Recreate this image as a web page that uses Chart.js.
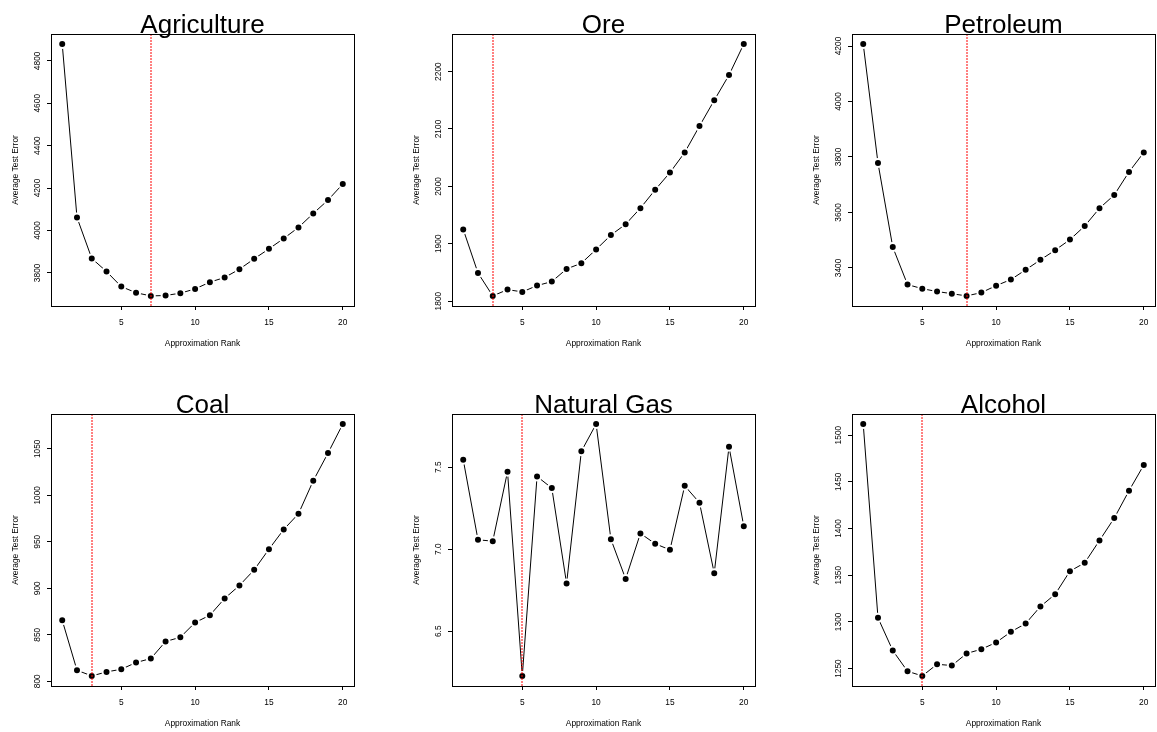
<!DOCTYPE html>
<html>
<head>
<meta charset="utf-8">
<script src="https://cdn.jsdelivr.net/npm/chart.js@4/dist/chart.umd.min.js"></script>
<style>
  body { margin: 0; background: #fff; width: 1157px; height: 732px; position: relative; overflow: hidden; }
  .panel { position: absolute; width: 360px; height: 380px; }
</style>
</head>
<body>
<div class="panel" style="left:0;top:0"><canvas id="c0" width="360" height="380"></canvas></div>
<div class="panel" style="left:401px;top:0"><canvas id="c1" width="360" height="380"></canvas></div>
<div class="panel" style="left:801px;top:0"><canvas id="c2" width="360" height="380"></canvas></div>
<div class="panel" style="left:0;top:380px"><canvas id="c3" width="360" height="380"></canvas></div>
<div class="panel" style="left:401px;top:380px"><canvas id="c4" width="360" height="380"></canvas></div>
<div class="panel" style="left:801px;top:380px"><canvas id="c5" width="360" height="380"></canvas></div>
<script>
const ranks = [1, 2, 3, 4, 5, 6, 7, 8, 9, 10, 11, 12, 13, 14, 15, 16, 17, 18, 19, 20]

const agriculture = [4879, 4061, 3868, 3806, 3735, 3706, 3691, 3693, 3704, 3724, 3756, 3778, 3817, 3866, 3913, 3962, 4014, 4080, 4143, 4219]
const ore = [1925, 1849, 1809, 1820, 1816, 1827, 1834, 1856, 1866, 1890, 1915, 1934, 1962, 1994, 2024, 2059, 2105, 2150, 2194, 2248]
const petroleum = [4207, 3778, 3475, 3340, 3325, 3315, 3307, 3299, 3311, 3336, 3358, 3393, 3429, 3464, 3502, 3551, 3615, 3663, 3746, 3816]
const coal = [865.6, 811.8, 805.7, 810, 812.9, 820.1, 824.4, 842.7, 847.3, 863.1, 871, 889, 903, 919.8, 942, 963.2, 980.1, 1015.6, 1045.4, 1076.6]
const naturalGas = [7.545, 7.057, 7.049, 7.472, 6.228, 7.443, 7.372, 6.791, 7.596, 7.762, 7.061, 6.819, 7.096, 7.033, 6.996, 7.386, 7.283, 6.854, 7.624, 7.140]
const alcohol = [1511.8, 1304.3, 1269.3, 1247.1, 1242.1, 1254.6, 1253.2, 1266.1, 1270.7, 1277.9, 1289.3, 1298.2, 1316.4, 1329.6, 1354.3, 1363.2, 1387.1, 1411.1, 1440.4, 1467.9]

const titles = ['Agriculture', 'Ore', 'Petroleum', 'Coal', 'Natural Gas', 'Alcohol']
const series = [agriculture, ore, petroleum, coal, naturalGas, alcohol]
const bestRanks = [7, 3, 8, 3, 5, 5]
const yStepSizes = [200, 100, 200, 50, 0.5, 50]
const yDecimals = [0, 0, 0, 0, 1, 0]
const xTicks = [5, 10, 15, 20]

const FAMILY = '"Liberation Sans", Arial, Helvetica, sans-serif'
const SMALL = 8.4

// R-style extended range: data range padded by 4% each side
function rRange(vals) {
  const lo = Math.min(...vals)
  const hi = Math.max(...vals)
  const pad = (hi - lo) * 0.04
  return [lo - pad, hi + pad]
}

function tickList(lo, hi, step) {
  const out = []
  for (let k = Math.ceil(lo / step); k * step <= hi; k++) out.push(+(k * step).toFixed(6))
  return out
}

const measureCtx = document.createElement('canvas').getContext('2d')
measureCtx.font = SMALL + 'px ' + FAMILY

const framePlugin = {
  id: 'frame',
  afterDatasetsDraw(chart, args, opts) {
    const { ctx, chartArea: a, scales: { x } } = chart
    const px = Math.round(x.getPixelForValue(opts.best))
    ctx.save()
    ctx.strokeStyle = '#ff0000'
    ctx.lineWidth = 1
    ctx.setLineDash([2, 1])
    ctx.beginPath()
    ctx.moveTo(px, a.top)
    ctx.lineTo(px, a.bottom)
    ctx.stroke()
    ctx.restore()
  },
  afterDraw(chart, args, opts) {
    const { ctx, chartArea: a } = chart
    ctx.save()
    ctx.strokeStyle = '#000'
    ctx.lineWidth = 1
    ctx.strokeRect(Math.round(a.left) + 0.5, Math.round(a.top) + 0.5,
      Math.round(a.right - a.left), Math.round(a.bottom - a.top))
    ctx.fillStyle = '#000'
    ctx.font = '26px ' + FAMILY
    ctx.textAlign = 'center'
    ctx.textBaseline = 'alphabetic'
    ctx.fillText(opts.title, (a.left + a.right) / 2, a.top - 1)
    ctx.restore()
  },
}

series.forEach((vals, i) => {
  const [xLo, xHi] = rRange(ranks)
  const [yLo, yHi] = rRange(vals)
  const dec = yDecimals[i]
  const yTicks = tickList(yLo, yHi, yStepSizes[i])

  // measure widest y label so rotated labels sit a fixed distance from the axis
  let widest = 0
  yTicks.forEach(v => {
    widest = Math.max(widest, measureCtx.measureText(v.toFixed(dec)).width)
  })
  const yPad = 9 - widest / 2

  const ctx = document.getElementById('c' + i).getContext('2d')
  new Chart(ctx, {
    type: 'line',
    data: {
      datasets: [
        {
          data: ranks.map((r, k) => ({ x: r, y: vals[k] })),
          borderColor: '#000',
          borderWidth: 1,
          tension: 0,
          pointRadius: 4,
          pointBorderWidth: 2,
          pointBackgroundColor: '#000',
          pointBorderColor: '#fff',
        },
      ],
    },
    options: {
      responsive: false,
      animation: false,
      layout: { padding: { left: 0, right: 2, top: 34, bottom: 28 } },
      plugins: {
        legend: { display: false },
        tooltip: { enabled: false },
        frame: { best: bestRanks[i], title: titles[i] },
      },
      scales: {
        x: {
          type: 'linear',
          min: xLo,
          max: xHi,
          afterBuildTicks: s => { s.ticks = xTicks.map(v => ({ value: v })) },
          afterFit: s => { s.height = 46 },
          border: { display: false },
          grid: { drawOnChartArea: false, drawTicks: true, tickLength: 4, tickColor: '#000' },
          ticks: {
            maxRotation: 0,
            padding: 8,
            color: '#000',
            font: { family: FAMILY, size: SMALL },
          },
          title: {
            display: true,
            text: 'Approximation Rank',
            color: '#000',
            font: { family: FAMILY, size: SMALL },
            padding: { top: 0, bottom: 3 },
          },
        },
        y: {
          type: 'linear',
          min: yLo,
          max: yHi,
          afterBuildTicks: s => { s.ticks = yTicks.map(v => ({ value: v })) },
          afterFit: s => { s.width = 51 },
          border: { display: false },
          grid: { drawOnChartArea: false, drawTicks: true, tickLength: 4, tickColor: '#000' },
          ticks: {
            minRotation: 90,
            maxRotation: 90,
            crossAlign: 'center',
            padding: yPad,
            color: '#000',
            font: { family: FAMILY, size: SMALL },
            callback: v => Number(v).toFixed(dec),
          },
          title: {
            display: true,
            text: 'Average Test Error',
            color: '#000',
            font: { family: FAMILY, size: SMALL },
            padding: { top: 11, bottom: 0 },
          },
        },
      },
    },
    plugins: [framePlugin],
  })
})
</script>
</body>
</html>
